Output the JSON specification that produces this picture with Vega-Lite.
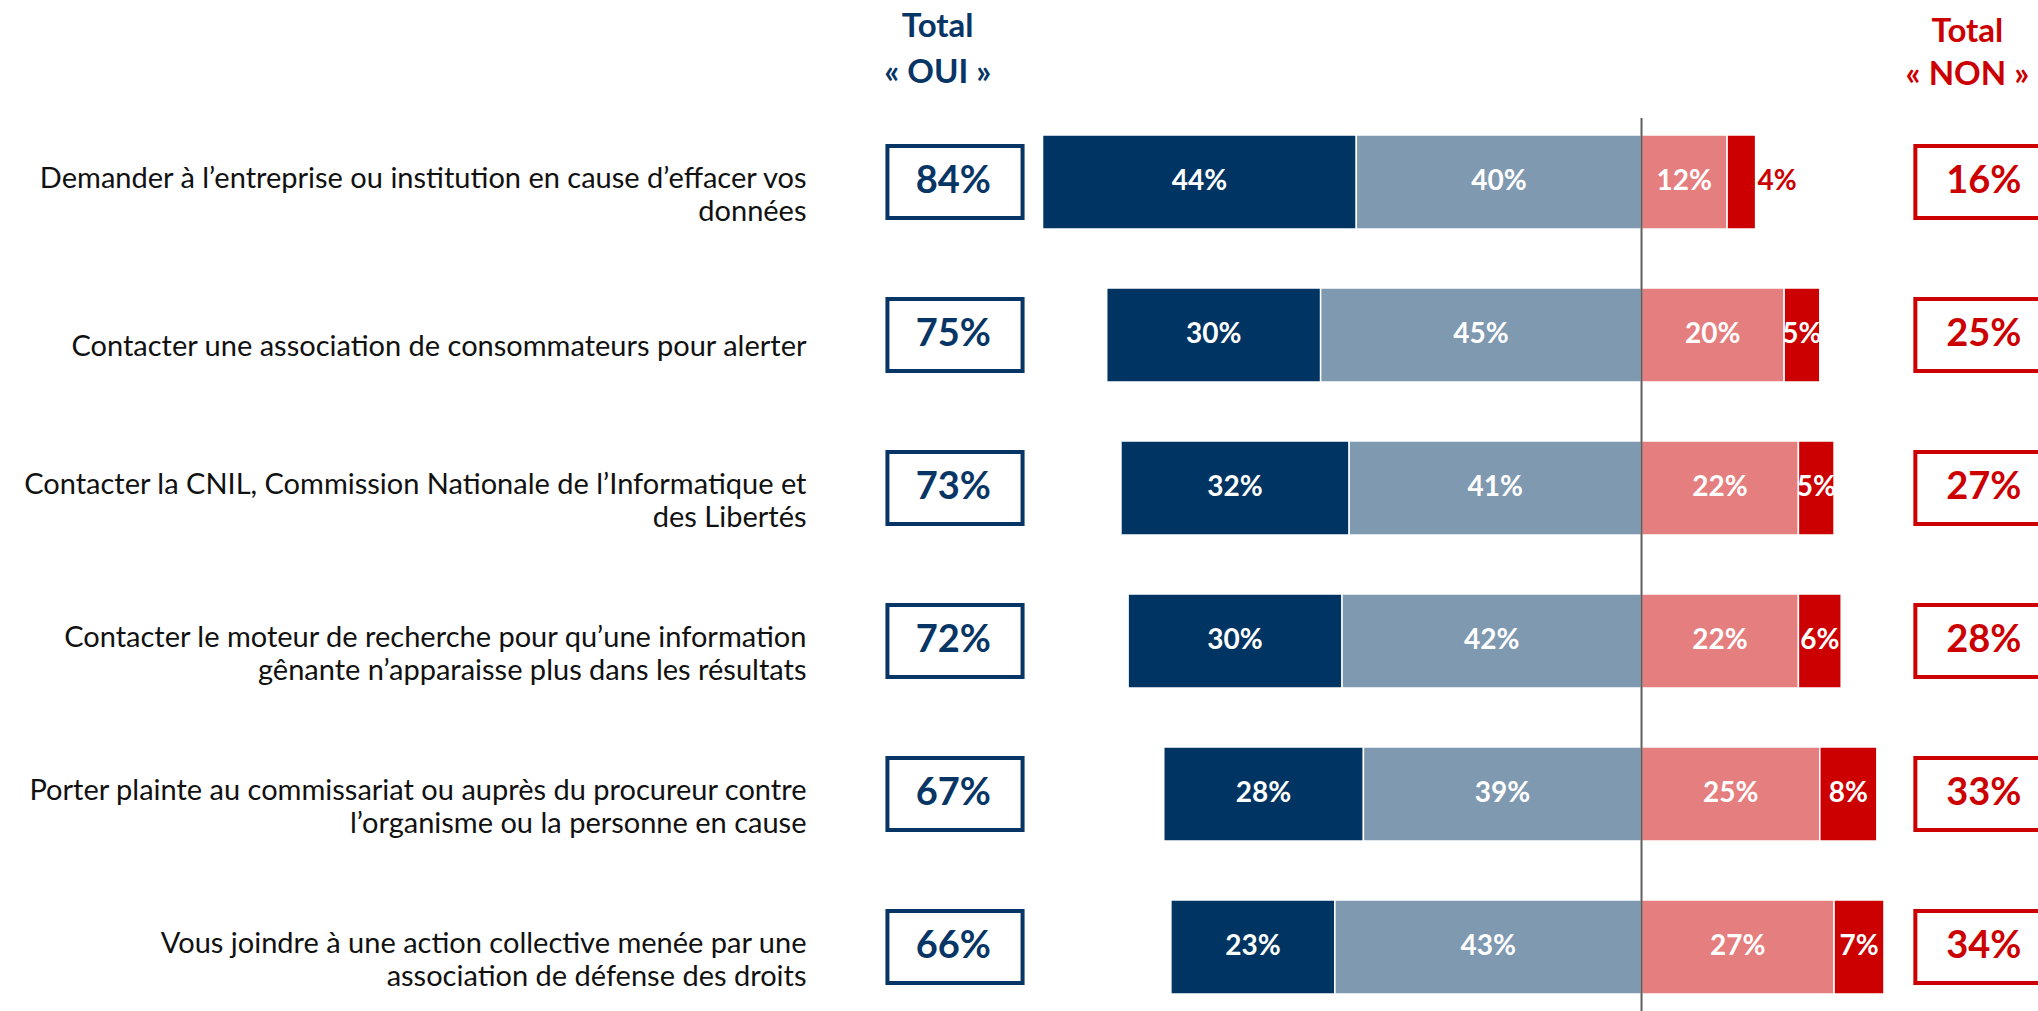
{
  "$schema": "https://vega.github.io/schema/vega-lite/v6.json",
  "width": 2038,
  "height": 1011,
  "padding": 0,
  "autosize": {"type": "none"},
  "background": "white",
  "config": {"view": {"stroke": null}, "axis": {"disable": true}, "font": "Lato"},
  "data": {"values": [
    {"item": "Demander à l’entreprise ou institution en cause d’effacer vos\ndonnées", "cat": "Oui, tout à fait", "side": "oui", "value": 44},
    {"item": "Demander à l’entreprise ou institution en cause d’effacer vos\ndonnées", "cat": "Oui, plutôt", "side": "oui", "value": 40},
    {"item": "Demander à l’entreprise ou institution en cause d’effacer vos\ndonnées", "cat": "Non, plutôt pas", "side": "non", "value": 12},
    {"item": "Demander à l’entreprise ou institution en cause d’effacer vos\ndonnées", "cat": "Non, pas du tout", "side": "non", "value": 4},
    {"item": "Contacter une association de consommateurs pour alerter", "cat": "Oui, tout à fait", "side": "oui", "value": 30},
    {"item": "Contacter une association de consommateurs pour alerter", "cat": "Oui, plutôt", "side": "oui", "value": 45},
    {"item": "Contacter une association de consommateurs pour alerter", "cat": "Non, plutôt pas", "side": "non", "value": 20},
    {"item": "Contacter une association de consommateurs pour alerter", "cat": "Non, pas du tout", "side": "non", "value": 5},
    {"item": "Contacter la CNIL, Commission Nationale de l’Informatique et\ndes Libertés", "cat": "Oui, tout à fait", "side": "oui", "value": 32},
    {"item": "Contacter la CNIL, Commission Nationale de l’Informatique et\ndes Libertés", "cat": "Oui, plutôt", "side": "oui", "value": 41},
    {"item": "Contacter la CNIL, Commission Nationale de l’Informatique et\ndes Libertés", "cat": "Non, plutôt pas", "side": "non", "value": 22},
    {"item": "Contacter la CNIL, Commission Nationale de l’Informatique et\ndes Libertés", "cat": "Non, pas du tout", "side": "non", "value": 5},
    {"item": "Contacter le moteur de recherche pour qu’une information\ngênante n’apparaisse plus dans les résultats", "cat": "Oui, tout à fait", "side": "oui", "value": 30},
    {"item": "Contacter le moteur de recherche pour qu’une information\ngênante n’apparaisse plus dans les résultats", "cat": "Oui, plutôt", "side": "oui", "value": 42},
    {"item": "Contacter le moteur de recherche pour qu’une information\ngênante n’apparaisse plus dans les résultats", "cat": "Non, plutôt pas", "side": "non", "value": 22},
    {"item": "Contacter le moteur de recherche pour qu’une information\ngênante n’apparaisse plus dans les résultats", "cat": "Non, pas du tout", "side": "non", "value": 6},
    {"item": "Porter plainte au commissariat ou auprès du procureur contre\nl’organisme ou la personne en cause", "cat": "Oui, tout à fait", "side": "oui", "value": 28},
    {"item": "Porter plainte au commissariat ou auprès du procureur contre\nl’organisme ou la personne en cause", "cat": "Oui, plutôt", "side": "oui", "value": 39},
    {"item": "Porter plainte au commissariat ou auprès du procureur contre\nl’organisme ou la personne en cause", "cat": "Non, plutôt pas", "side": "non", "value": 25},
    {"item": "Porter plainte au commissariat ou auprès du procureur contre\nl’organisme ou la personne en cause", "cat": "Non, pas du tout", "side": "non", "value": 8},
    {"item": "Vous joindre à une action collective menée par une\nassociation de défense des droits", "cat": "Oui, tout à fait", "side": "oui", "value": 23},
    {"item": "Vous joindre à une action collective menée par une\nassociation de défense des droits", "cat": "Oui, plutôt", "side": "oui", "value": 43},
    {"item": "Vous joindre à une action collective menée par une\nassociation de défense des droits", "cat": "Non, plutôt pas", "side": "non", "value": 27},
    {"item": "Vous joindre à une action collective menée par une\nassociation de défense des droits", "cat": "Non, pas du tout", "side": "non", "value": 7}
  ]},
  "layer": [
    {
      "transform": [
        {"calculate": "datum.side == 'oui' ? -datum.value : datum.value", "as": "v"},
        {"calculate": "indexof(['Oui, plutôt', 'Oui, tout à fait', 'Non, plutôt pas', 'Non, pas du tout'], datum.cat)", "as": "o"},
        {"stack": "v", "groupby": ["item"], "sort": [{"field": "o"}], "as": ["v0", "v1"]}
      ],
      "mark": {"type": "bar", "stroke": "white", "strokeWidth": 1.5},
      "encoding": {
        "x": {"field": "v0", "type": "quantitative", "scale": {"domain": [-230.2, 55.6], "nice": false, "zero": false}, "axis": null},
        "x2": {"field": "v1"},
        "y": {"field": "item", "type": "nominal", "sort": null, "scale": {"paddingInner": 0.386, "paddingOuter": 0.497, "align": 0.8875}, "axis": null},
        "color": {"field": "cat", "type": "nominal", "legend": null,
          "scale": {"domain": ["Oui, tout à fait", "Oui, plutôt", "Non, plutôt pas", "Non, pas du tout"], "range": ["#003462", "#7f99b1", "#e57e7e", "#cc0000"]}}
      }
    },
    {
      "mark": {"type": "rule", "color": "#5f5f5f", "strokeWidth": 2, "yOffset": -64, "y2Offset": 66},
      "data": {"values": [{}]},
      "encoding": {
        "x": {"datum": 0, "type": "quantitative"},
        "y": {"datum": "Demander à l’entreprise ou institution en cause d’effacer vos\ndonnées", "type": "nominal"},
        "y2": {"datum": "Vous joindre à une action collective menée par une\nassociation de défense des droits"}
      }
    },
    {
      "transform": [
        {"calculate": "datum.side == 'oui' ? -datum.value : datum.value", "as": "v"},
        {"calculate": "indexof(['Oui, plutôt', 'Oui, tout à fait', 'Non, plutôt pas', 'Non, pas du tout'], datum.cat)", "as": "o"},
        {"stack": "v", "groupby": ["item"], "sort": [{"field": "o"}], "as": ["v0", "v1"]},
        {"calculate": "(datum.v0 + datum.v1) / 2", "as": "mid"},
        {"filter": "datum.value >= 5"},
        {"calculate": "datum.value + '%'", "as": "lbl"}
      ],
      "mark": {"type": "text", "color": "white", "fontWeight": "bold", "fontSize": 28, "align": "center", "baseline": "middle"},
      "encoding": {
        "x": {"field": "mid", "type": "quantitative"},
        "y": {"field": "item", "type": "nominal", "sort": null},
        "text": {"field": "lbl"}
      }
    },
    {
      "transform": [
        {"calculate": "datum.side == 'oui' ? -datum.value : datum.value", "as": "v"},
        {"calculate": "indexof(['Oui, plutôt', 'Oui, tout à fait', 'Non, plutôt pas', 'Non, pas du tout'], datum.cat)", "as": "o"},
        {"stack": "v", "groupby": ["item"], "sort": [{"field": "o"}], "as": ["v0", "v1"]},
        {"filter": "datum.value < 5"},
        {"calculate": "datum.value + '%'", "as": "lbl"}
      ],
      "mark": {"type": "text", "color": "#cc0000", "fontWeight": "bold", "fontSize": 28, "align": "left", "baseline": "middle", "dx": 2},
      "encoding": {
        "x": {"field": "v1", "type": "quantitative"},
        "y": {"field": "item", "type": "nominal", "sort": null},
        "text": {"field": "lbl"}
      }
    },
    {
      "transform": [{"filter": "datum.cat == 'Oui, tout à fait' && indexof(datum.item, '\\n') >= 0"}],
      "mark": {"type": "text", "align": "right", "baseline": "middle", "fontSize": 29, "color": "#111111", "lineBreak": "\n", "lineHeight": 33, "dy": -3},
      "encoding": {
        "x": {"datum": -117.1, "type": "quantitative"},
        "y": {"field": "item", "type": "nominal", "sort": null},
        "text": {"field": "item"}
      }
    },
    {
      "transform": [{"filter": "datum.cat == 'Oui, tout à fait' && indexof(datum.item, '\\n') < 0"}],
      "mark": {"type": "text", "align": "right", "baseline": "middle", "fontSize": 29, "color": "#111111", "dy": 12},
      "encoding": {
        "x": {"datum": -117.1, "type": "quantitative"},
        "y": {"field": "item", "type": "nominal", "sort": null},
        "text": {"field": "item"}
      }
    },
    {
      "transform": [
        {"filter": "datum.side == 'oui'"},
        {"aggregate": [{"op": "sum", "field": "value", "as": "total"}], "groupby": ["item"]}
      ],
      "mark": {"type": "bar", "fill": "white", "stroke": "#073565", "strokeWidth": 4, "height": {"band": 0.766}},
      "encoding": {
        "x": {"datum": -105.75, "type": "quantitative"},
        "x2": {"datum": -86.8},
        "y": {"field": "item", "type": "nominal", "sort": null}
      }
    },
    {
      "transform": [
        {"filter": "datum.side == 'oui'"},
        {"aggregate": [{"op": "sum", "field": "value", "as": "total"}], "groupby": ["item"]},
        {"calculate": "datum.total + '%'", "as": "lbl"}
      ],
      "mark": {"type": "text", "color": "#073565", "fontWeight": "bold", "fontSize": 38, "align": "center", "baseline": "middle"},
      "encoding": {
        "x": {"datum": -96.5, "type": "quantitative"},
        "y": {"field": "item", "type": "nominal", "sort": null},
        "text": {"field": "lbl"}
      }
    },
    {
      "transform": [
        {"filter": "datum.side == 'non'"},
        {"aggregate": [{"op": "sum", "field": "value", "as": "total"}], "groupby": ["item"]}
      ],
      "mark": {"type": "bar", "fill": "white", "stroke": "#cc0000", "strokeWidth": 4, "height": {"band": 0.766}, "clip": false},
      "encoding": {
        "x": {"datum": 38.4, "type": "quantitative"},
        "x2": {"datum": 57.5},
        "y": {"field": "item", "type": "nominal", "sort": null}
      }
    },
    {
      "transform": [
        {"filter": "datum.side == 'non'"},
        {"aggregate": [{"op": "sum", "field": "value", "as": "total"}], "groupby": ["item"]},
        {"calculate": "datum.total + '%'", "as": "lbl"}
      ],
      "mark": {"type": "text", "color": "#cc0000", "fontWeight": "bold", "fontSize": 38, "align": "center", "baseline": "middle"},
      "encoding": {
        "x": {"datum": 48.0, "type": "quantitative"},
        "y": {"field": "item", "type": "nominal", "sort": null},
        "text": {"field": "lbl"}
      }
    },
    {
      "data": {"values": [{"h": ["Total", "« OUI »"]}]},
      "mark": {"type": "text", "color": "#073565", "fontWeight": "bold", "fontSize": 33, "align": "center", "baseline": "middle", "lineHeight": 46, "dy": -155},
      "encoding": {
        "x": {"datum": -98.7, "type": "quantitative"},
        "y": {"datum": "Demander à l’entreprise ou institution en cause d’effacer vos\ndonnées", "type": "nominal"},
        "text": {"field": "h"}
      }
    },
    {
      "data": {"values": [{"h": ["Total", "« NON »"]}]},
      "mark": {"type": "text", "color": "#cc0000", "fontWeight": "bold", "fontSize": 33, "align": "center", "baseline": "middle", "lineHeight": 43, "dy": -150},
      "encoding": {
        "x": {"datum": 45.7, "type": "quantitative"},
        "y": {"datum": "Demander à l’entreprise ou institution en cause d’effacer vos\ndonnées", "type": "nominal"},
        "text": {"field": "h"}
      }
    }
  ]
}
